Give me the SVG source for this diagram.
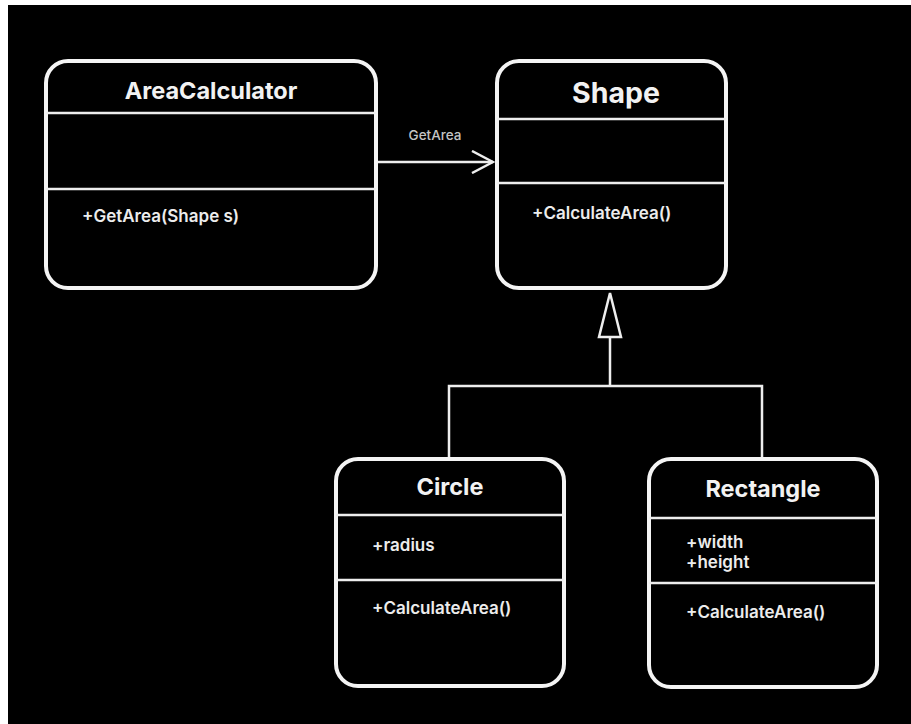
<svg xmlns="http://www.w3.org/2000/svg" width="911" height="724" viewBox="0 0 911 724">
  <style>
    .box { fill: #000; stroke: #f4f4f4; stroke-width: 4; }
    .div { stroke: #eeeeee; stroke-width: 2.5; }
    .title { font-family: Inter, "Liberation Sans", sans-serif; font-weight: 700; fill: #f2f2f2; text-anchor: middle; }
    .member { font-family: Inter, "Liberation Sans", sans-serif; font-weight: 600; font-size: 17px; fill: #ececec; }
    .wire { fill: none; stroke: #eeeeee; stroke-width: 2.5; }
    .label { font-family: Inter, "Liberation Sans", sans-serif; font-weight: 500; font-size: 13.5px; fill: #c4c4c4; text-anchor: middle; }
  </style>
  <defs>
    <marker id="open-arrow" viewBox="0 0 24 24" refX="22" refY="12" markerWidth="24" markerHeight="24" markerUnits="userSpaceOnUse" orient="auto">
      <path d="M1,1 L22,12 L1,23" fill="none" stroke="#eeeeee" stroke-width="2.5"/>
    </marker>
  </defs>

  <!-- page -->
  <rect x="0" y="0" width="911" height="724" fill="#ffffff"/>
  <rect x="8" y="5" width="903" height="719" fill="#000000"/>

  <!-- connectors -->
  <g id="connectors">
    <line class="wire" x1="378" y1="162" x2="493" y2="162" marker-end="url(#open-arrow)"/>
    <path class="wire" d="M449,458 V386 H762 V458"/>
    <line class="wire" x1="610" y1="386" x2="610" y2="337"/>
    <polygon class="wire" points="610,293 621,337 599,337"/>
    <text class="label" x="435" y="140">GetArea</text>
  </g>

  <g id="AreaCalculator">
    <rect class="box" x="46" y="61" width="330" height="227" rx="22"/>
    <line class="div" x1="46" y1="113" x2="376" y2="113"/>
    <line class="div" x1="46" y1="189" x2="376" y2="189"/>
    <text class="title" x="211" y="99" font-size="23.5">AreaCalculator</text>
    <text class="member" x="82" y="222">+GetArea(Shape s)</text>
  </g>

  <g id="Shape">
    <rect class="box" x="497" y="61" width="229" height="227" rx="22"/>
    <line class="div" x1="497" y1="119" x2="726" y2="119"/>
    <line class="div" x1="497" y1="183" x2="726" y2="183"/>
    <text class="title" x="616" y="103" font-size="28.5">Shape</text>
    <text class="member" x="532" y="219">+CalculateArea()</text>
  </g>

  <g id="Circle">
    <rect class="box" x="336" y="459" width="228" height="227" rx="22"/>
    <line class="div" x1="336" y1="515" x2="564" y2="515"/>
    <line class="div" x1="336" y1="580" x2="564" y2="580"/>
    <text class="title" x="450" y="495" font-size="23.5">Circle</text>
    <text class="member" x="372" y="551">+radius</text>
    <text class="member" x="372" y="614">+CalculateArea()</text>
  </g>

  <g id="Rectangle">
    <rect class="box" x="649" y="459" width="228" height="228" rx="22"/>
    <line class="div" x1="649" y1="518" x2="877" y2="518"/>
    <line class="div" x1="649" y1="583" x2="877" y2="583"/>
    <text class="title" x="763" y="497" font-size="23.5">Rectangle</text>
    <text class="member" x="686" y="548">+width</text>
    <text class="member" x="686" y="568">+height</text>
    <text class="member" x="686" y="618">+CalculateArea()</text>
  </g>
</svg>
